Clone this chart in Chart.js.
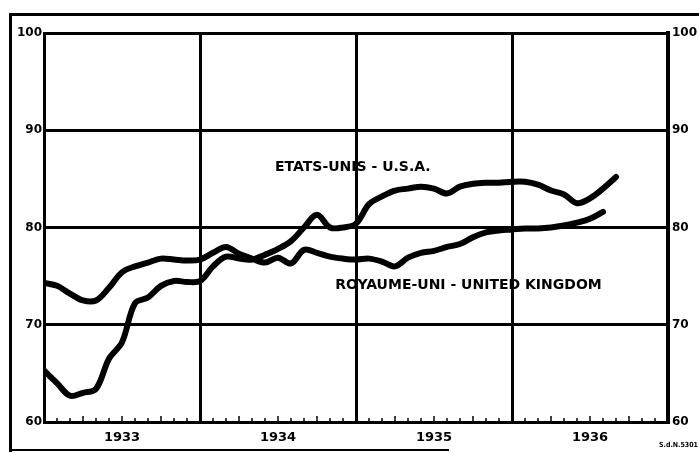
<!DOCTYPE html>
<html lang="fr">
<head>
<meta charset="UTF-8">
<title>Etats-Unis / Royaume-Uni 1933-1936</title>
<script src="https://cdn.jsdelivr.net/npm/chart.js"></script>
<style>
body { margin: 0; background: #fff; }
.wrap { position: relative; width: 699px; height: 453px; overflow: hidden; }
.frame { position: absolute; left: 9px; top: 13px; width: 700px; height: 436px; border-top: 3px solid #000; border-left: 3px solid #000; }
.base { position: absolute; left: 9px; top: 449px; width: 440px; border-top: 2px solid #000; }
.ref { position: absolute; right: 1px; top: 441px; font: bold 7px 'DejaVu Sans Condensed', sans-serif; }
canvas { position: absolute; left: 0; top: 0; }
</style>
</head>
<body>
<div class="wrap">
    <div class="frame"></div>
    <div class="base"></div>
    <canvas id="chart" width="699" height="453"></canvas>
    <div class="ref">S.d.N.5301</div>
</div>
<script>
// months counted from January 1933 (0) to January 1937 (48)
const yearLabels = ["1933", "1934", "1935", "1936"];
const yTicks = [60, 70, 80, 90, 100];

// monthly index values
const usa = [65.3, 64.0, 62.7, 63.0, 63.4, 66.5, 68.2, 72.2, 72.8, 74.0, 74.5, 74.4,
             74.5, 76.0, 77.0, 76.8, 76.7, 77.2, 77.8, 78.6, 80.0, 81.3, 80.0, 80.0,
             80.4, 82.4, 83.2, 83.8, 84.0, 84.2, 84.0, 83.5, 84.2, 84.5, 84.6, 84.6,
             84.7, 84.7, 84.4, 83.8, 83.4, 82.5, 83.0, 84.0, 85.2];
const uk = [74.3, 74.0, 73.2, 72.5, 72.5, 73.8, 75.4, 76.0, 76.4, 76.8, 76.7, 76.6,
            76.7, 77.4, 78.0, 77.3, 76.8, 76.4, 76.9, 76.3, 77.7, 77.4, 77.0, 76.8,
            76.7, 76.8, 76.5, 76.0, 76.9, 77.4, 77.6, 78.0, 78.3, 79.0, 79.5, 79.7,
            79.8, 79.9, 79.9, 80.0, 80.2, 80.5, 80.9, 81.6];

const seriesNames = ["ETATS-UNIS - U.S.A.", "ROYAUME-UNI - UNITED KINGDOM"];

const toPoints = arr => arr.map((v, i) => ({ x: i, y: v }));

const labelFont = "bold 14px 'DejaVu Sans', sans-serif";

const extras = {
    id: 'extras',
    beforeDatasetsDraw(chart) {
        const ctx = chart.ctx, x = chart.scales.x, a = chart.chartArea;
        ctx.save();
        ctx.strokeStyle = '#000';
        ctx.lineWidth = 1.5;
        for (let m = 1; m < 48; m++) {
            if (m % 12 === 0) continue;
            const px = x.getPixelForValue(m);
            ctx.beginPath();
            ctx.moveTo(px, a.bottom);
            ctx.lineTo(px, a.bottom - (m % 3 === 0 ? 6 : 4));
            ctx.stroke();
        }
        ctx.restore();
    },
    afterDatasetsDraw(chart) {
        const ctx = chart.ctx, x = chart.scales.x, y = chart.scales.y;
        const spots = [[17.77, 86.2], [22.4, 74.1]];
        ctx.save();
        ctx.fillStyle = '#000';
        ctx.font = labelFont;
        ctx.textAlign = 'left';
        ctx.textBaseline = 'middle';
        seriesNames.forEach((name, i) => {
            ctx.fillText(name, x.getPixelForValue(spots[i][0]), y.getPixelForValue(spots[i][1]));
        });
        ctx.restore();
    }
};

const tickFont = { family: "'DejaVu Sans', sans-serif", size: 12, weight: 'bold' };

new Chart(document.getElementById('chart'), {
    type: 'line',
    data: {
        datasets: [
            { label: seriesNames[0], data: toPoints(usa) },
            { label: seriesNames[1], data: toPoints(uk) }
        ]
    },
    options: {
        responsive: false,
        animation: false,
        layout: { padding: { top: 33 } },
        elements: {
            line: { borderColor: '#000', borderWidth: 6, tension: 0.35, borderCapStyle: 'round', borderJoinStyle: 'round' },
            point: { radius: 0 }
        },
        plugins: { legend: { display: false }, tooltip: { enabled: false } },
        scales: {
            x: {
                type: 'linear', min: 0, max: 48,
                afterBuildTicks: s => { s.ticks = [0, 6, 12, 18, 24, 30, 36, 42, 48].map(v => ({ value: v })); },
                afterFit: s => { s.height = 31; },
                ticks: {
                    autoSkip: false, maxRotation: 0, color: '#000', padding: 8,
                    font: { family: "'DejaVu Sans', sans-serif", size: 13, weight: 'bold' },
                    callback: v => (v % 12 === 6 ? yearLabels[(v - 6) / 12] : '')
                },
                grid: {
                    drawTicks: false, lineWidth: 3,
                    color: c => (c.tick && c.tick.value % 12 === 0 ? '#000' : 'rgba(0,0,0,0)')
                },
                border: { color: '#000', width: 3 }
            },
            y: {
                min: 60, max: 100,
                afterBuildTicks: s => { s.ticks = yTicks.map(v => ({ value: v })); },
                afterFit: s => { s.width = 44; },
                ticks: { color: '#000', padding: 2, font: tickFont },
                grid: { drawTicks: false, color: '#000', lineWidth: 3 },
                border: { color: '#000', width: 3 }
            },
            y2: {
                position: 'right', min: 60, max: 100,
                afterBuildTicks: s => { s.ticks = yTicks.map(v => ({ value: v })); },
                afterFit: s => { s.width = 31; },
                ticks: { color: '#000', padding: 4, font: tickFont },
                grid: { drawOnChartArea: false, drawTicks: false },
                border: { color: '#000', width: 4 }
            }
        }
    },
    plugins: [extras]
});
</script>
</body>
</html>
